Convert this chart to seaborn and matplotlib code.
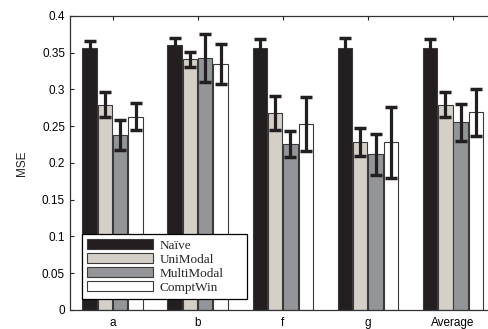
import numpy as np
import pandas as pd
import matplotlib
matplotlib.use('Agg')
import matplotlib.pyplot as plt
import seaborn as sns

# ── Data ────────────────────────────────────────────────────────────────────
GROUPS = ['a', 'b', 'f', 'g', 'Average']
METHODS = ['Naïve', 'UniModal', 'MultiModal', 'ComptWin']

NAIVE      = [0.357, 0.360, 0.356, 0.357, 0.357]
UNIMODAL   = [0.279, 0.341, 0.268, 0.228, 0.279]
MULTIMODAL = [0.238, 0.343, 0.226, 0.212, 0.255]
COMPTWIN   = [0.263, 0.335, 0.253, 0.228, 0.269]

NAIVE_ERR      = [0.009, 0.010, 0.013, 0.013, 0.012]
UNIMODAL_ERR   = [0.017, 0.010, 0.023, 0.019, 0.017]
MULTIMODAL_ERR = [0.020, 0.033, 0.018, 0.028, 0.025]
COMPTWIN_ERR   = [0.018, 0.027, 0.037, 0.048, 0.032]

YTICKS = [0, 0.05, 0.1, 0.15, 0.2, 0.25, 0.3, 0.35, 0.4]
YTICK_LABELS = ['0', '0.05', '0.1', '0.15', '0.2', '0.25', '0.3', '0.35', '0.4']

COLORS = ['#231f20', '#d4d0c8', '#939598', '#ffffff']

values = [NAIVE, UNIMODAL, MULTIMODAL, COMPTWIN]
errors = [NAIVE_ERR, UNIMODAL_ERR, MULTIMODAL_ERR, COMPTWIN_ERR]

df = pd.DataFrame({
    'group': GROUPS * len(METHODS),
    'method': [m for m in METHODS for _ in GROUPS],
    'mse': [v for series in values for v in series],
})

sns.set_theme(style='ticks')
plt.rcParams['font.family'] = ['Liberation Sans', 'DejaVu Sans']

fig = plt.figure(figsize=(4.88, 3.29), dpi=100)
fig.patch.set_facecolor('white')
# axes runs a bit past the right edge, as in the (cropped) reference
ax = fig.add_axes([0.1434, 0.058, 0.872, 0.8936])

sns.barplot(data=df, x='group', y='mse', hue='method', order=GROUPS,
            hue_order=METHODS, palette=COLORS, width=0.72, gap=0.06,
            edgecolor='#3a3a3a', linewidth=0.8, saturation=1,
            errorbar=None, ax=ax)

# error bars on top of each bar
for container, err in zip(ax.containers, errors):
    xs = [b.get_x() + b.get_width() / 2 for b in container]
    ys = [b.get_height() for b in container]
    ax.errorbar(xs, ys, yerr=err, fmt='none', ecolor='#231f20',
                elinewidth=2.3, capsize=4.5, capthick=2.5, zorder=5)

ax.set_xlim(-0.5, 4.5)
ax.set_ylim(0, 0.4)
ax.set_yticks(YTICKS)
ax.set_yticklabels(YTICK_LABELS)
ax.set_xlabel('')
ax.set_ylabel('MSE', fontsize=8.5, labelpad=10)
ax.tick_params(axis='both', direction='in', top=True, right=True,
               labelsize=8.5, length=3, width=0.8, colors='#222222',
               labelcolor='black')
ax.tick_params(axis='x', pad=5)
for side in ['left', 'bottom', 'top', 'right']:
    ax.spines[side].set_visible(True)
    ax.spines[side].set_linewidth(0.9)
    ax.spines[side].set_color('#333333')

leg = ax.legend(loc='lower left', bbox_to_anchor=(0.028, 0.037, 0.388, 0.2),
                mode='expand', borderaxespad=0, frameon=True, fancybox=False,
                handlelength=5.0, handleheight=0.75, handletextpad=0.5,
                labelspacing=0.12, borderpad=0.4,
                prop={'family': 'Liberation Serif', 'size': 9.5})
leg.get_frame().set_edgecolor('black')
leg.get_frame().set_linewidth(0.9)
leg.get_frame().set_alpha(1)

plt.savefig('out.png', dpi=100)
plt.close()
